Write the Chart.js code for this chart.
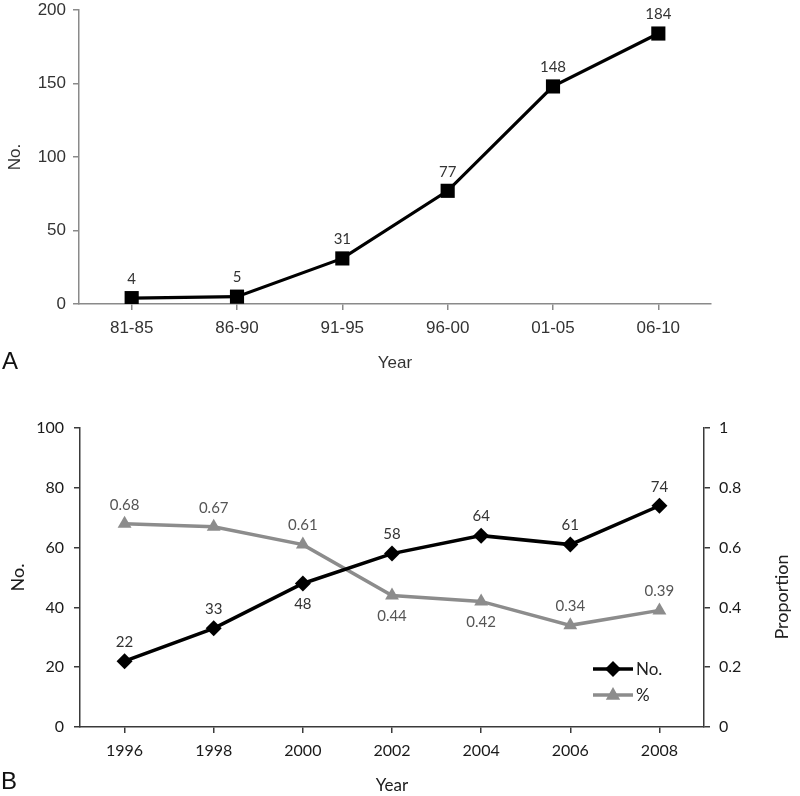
<html>
<head>
<script src="https://cdn.jsdelivr.net/npm/chart.js@4.4.0/dist/chart.umd.min.js"></script>
<style>
  body { margin: 0; background: #fff; }
  .panel { position: absolute; left: 0; }
</style>
</head>
<body>
<div class="panel" style="top:0"><canvas id="chartA" width="800" height="400"></canvas></div>
<div class="panel" style="top:410px"><canvas id="chartB" width="800" height="386"></canvas></div>
<script>
// panel A
var periods = ['81-85', '86-90', '91-95', '96-00', '01-05', '06-10'];
var countsA = [4, 5, 31, 77, 148, 184];
var ticksNoA = [0, 50, 100, 150, 200];

// panel B
var years = ['1996', '1998', '2000', '2002', '2004', '2006', '2008'];
var countsB = [22, 33, 48, 58, 64, 61, 74];
var proportions = [0.68, 0.67, 0.61, 0.44, 0.42, 0.34, 0.39];
var ticksNoB = [0, 20, 40, 60, 80, 100];
var ticksProp = [0, 0.2, 0.4, 0.6, 0.8, 1];

function marker(ctx, style, x, y, r, color) {
  ctx.fillStyle = color;
  ctx.beginPath();
  if (style === 'rectRot') {
    ctx.moveTo(x, y - r); ctx.lineTo(x + r, y); ctx.lineTo(x, y + r); ctx.lineTo(x - r, y);
  } else if (style === 'triangle') {
    ctx.moveTo(x, y - r); ctx.lineTo(x + r * 0.9, y + r * 0.6); ctx.lineTo(x - r * 0.9, y + r * 0.6);
  } else {
    var s = r * Math.SQRT1_2;
    ctx.rect(x - s, y - s, 2 * s, 2 * s);
  }
  ctx.closePath();
  ctx.fill();
}

var extras = {
  id: 'extras',
  afterDatasetsDraw: function (chart, args, opts) {
    var ctx = chart.ctx;
    chart.data.datasets.forEach(function (ds, i) {
      var meta = chart.getDatasetMeta(i);
      ctx.save();
      ctx.font = opts.labelFont;
      ctx.fillStyle = ds.labelColor;
      ctx.textAlign = 'center';
      ctx.textBaseline = 'middle';
      meta.data.forEach(function (pt, j) {
        var below = (ds.labelBelow || []).indexOf(j) >= 0;
        var v = ds.data[j];
        var txt = ds.labelDigits ? v.toFixed(ds.labelDigits) : String(v);
        ctx.fillText(txt, pt.x, pt.y + (below ? 21 : -19));
      });
      ctx.restore();
    });
  },
  afterDraw: function (chart, args, opts) {
    var ctx = chart.ctx;
    ctx.save();
    ctx.textBaseline = 'middle';
    ctx.textAlign = 'center';
    ctx.fillStyle = '#111';
    ctx.font = '24px "Liberation Sans", Arial, sans-serif';
    ctx.fillText(opts.letter, opts.letterX, opts.letterY);
    if (opts.rightTitle) {
      ctx.save();
      ctx.translate(opts.rightTitle.x, opts.rightTitle.y);
      ctx.rotate(-Math.PI / 2);
      ctx.font = opts.rightTitle.font;
      ctx.fillStyle = '#222';
      ctx.fillText(opts.rightTitle.text, 0, 0);
      ctx.restore();
    }
    if (opts.legend) {
      var L = opts.legend;
      chart.data.datasets.forEach(function (ds, i) {
        var y = L.y + i * L.gap;
        ctx.strokeStyle = ds.borderColor;
        ctx.lineWidth = ds.borderWidth;
        ctx.beginPath();
        ctx.moveTo(L.x, y);
        ctx.lineTo(L.x + 40, y);
        ctx.stroke();
        marker(ctx, ds.pointStyle, L.x + 20, y, ds.pointRadius, ds.pointBackgroundColor);
        ctx.fillStyle = '#222';
        ctx.textAlign = 'left';
        ctx.font = L.font;
        ctx.fillText(ds.label, L.x + 43, y + 1);
      });
    }
    ctx.restore();
  }
};

var fontA = { family: '"Liberation Sans", Arial, sans-serif', size: 17 };
var fontB = { family: 'Lato, "Open Sans", sans-serif', size: 16 };
var greyAxis = '#8a8a8a';
var darkAxis = '#3a3a3a';

function setTicks(list) {
  return function (scale) { scale.ticks = list.map(function (v) { return { value: v }; }); };
}
function fixWidth(w) {
  return function (s) { s.width = w; s.paddingTop = 0; s.paddingBottom = 0; };
}

new Chart(document.getElementById('chartA'), {
  type: 'line',
  data: {
    labels: periods,
    datasets: [{
      label: 'No.',
      data: countsA,
      borderColor: '#000',
      borderWidth: 3.2,
      pointStyle: 'rect',
      pointRadius: 10,
      pointBackgroundColor: '#000',
      pointBorderWidth: 0,
      labelColor: '#333',
      tension: 0
    }]
  },
  options: {
    responsive: false,
    animation: false,
    devicePixelRatio: 1,
    layout: { padding: { top: 4, right: 89, left: 0, bottom: 0 } },
    plugins: {
      legend: { display: false },
      tooltip: { enabled: false },
      extras: { labelFont: '15px Lato, sans-serif', letter: 'A', letterX: 10, letterY: 362 }
    },
    scales: {
      x: {
        offset: true,
        grid: { offset: false, drawOnChartArea: false, tickLength: 6, color: greyAxis, lineWidth: 1.5 },
        border: { color: greyAxis, width: 1.5 },
        ticks: { color: '#333', font: fontA, padding: 8, maxRotation: 0 },
        title: { display: true, text: 'Year', color: '#333', font: fontA, padding: { top: 0, bottom: 26 } },
        afterFit: function (s) { s.height = 96; }
      },
      y: {
        min: 0, max: 200,
        afterBuildTicks: setTicks(ticksNoA),
        grid: { drawOnChartArea: false, tickLength: 6, color: greyAxis, lineWidth: 1.5 },
        border: { color: greyAxis, width: 1.5 },
        ticks: { color: '#333', font: fontA, padding: 7 },
        title: { display: true, text: 'No.', color: '#333', font: fontA, padding: { top: 5, bottom: 0 } },
        afterFit: fixWidth(79)
      }
    }
  },
  plugins: [extras]
});

new Chart(document.getElementById('chartB'), {
  type: 'line',
  data: {
    labels: years,
    datasets: [{
      label: 'No.',
      data: countsB,
      yAxisID: 'y',
      borderColor: '#000',
      borderWidth: 3.5,
      pointStyle: 'rectRot',
      pointRadius: 8,
      pointBackgroundColor: '#000',
      pointBorderWidth: 0,
      labelColor: '#333',
      labelBelow: [2],
      tension: 0
    }, {
      label: '%',
      data: proportions,
      yAxisID: 'y1',
      borderColor: '#8c8c8c',
      borderWidth: 3.5,
      pointStyle: 'triangle',
      pointRadius: 8,
      pointBackgroundColor: '#8c8c8c',
      pointBorderWidth: 0,
      labelColor: '#555',
      labelDigits: 2,
      labelBelow: [3, 4],
      tension: 0
    }]
  },
  options: {
    responsive: false,
    animation: false,
    devicePixelRatio: 1,
    layout: { padding: { top: 18, right: 0, left: 0, bottom: 0 } },
    plugins: {
      legend: { display: false },
      tooltip: { enabled: false },
      extras: {
        labelFont: '15px Lato, sans-serif',
        letter: 'B', letterX: 9, letterY: 372,
        rightTitle: { text: 'Proportion', x: 782, y: 187, font: '18px Lato, sans-serif' },
        legend: { x: 593, y: 259, gap: 26, font: '17px Lato, sans-serif' }
      }
    },
    scales: {
      x: {
        offset: true,
        grid: { offset: false, drawOnChartArea: false, tickLength: 6, color: darkAxis, lineWidth: 1.5 },
        border: { color: darkAxis, width: 1.5 },
        ticks: { color: '#1a1a1a', font: fontB, padding: 8, maxRotation: 0 },
        title: { display: true, text: 'Year', color: '#1a1a1a', font: { family: fontB.family, size: 17 }, padding: { top: 0, bottom: 0 } },
        afterFit: function (s) { s.height = 69; }
      },
      y: {
        position: 'left',
        min: 0, max: 100,
        afterBuildTicks: setTicks(ticksNoB),
        grid: { drawOnChartArea: false, tickLength: 6, color: darkAxis, lineWidth: 1.5 },
        border: { color: darkAxis, width: 1.5 },
        ticks: { color: '#1a1a1a', font: fontB, padding: 10 },
        title: { display: true, text: 'No.', color: '#1a1a1a', font: { family: fontB.family, size: 18 }, padding: { top: 7, bottom: 0 } },
        afterFit: fixWidth(80)
      },
      y1: {
        position: 'right',
        min: 0, max: 1,
        afterBuildTicks: setTicks(ticksProp),
        grid: { drawOnChartArea: false, tickLength: 6, color: darkAxis, lineWidth: 1.5 },
        border: { color: darkAxis, width: 1.5 },
        ticks: { color: '#1a1a1a', font: fontB, padding: 9,
          callback: function (v) { return String(Math.round(v * 10) / 10); } },
        afterFit: fixWidth(96)
      }
    }
  },
  plugins: [extras]
});
</script>
</body>
</html>
